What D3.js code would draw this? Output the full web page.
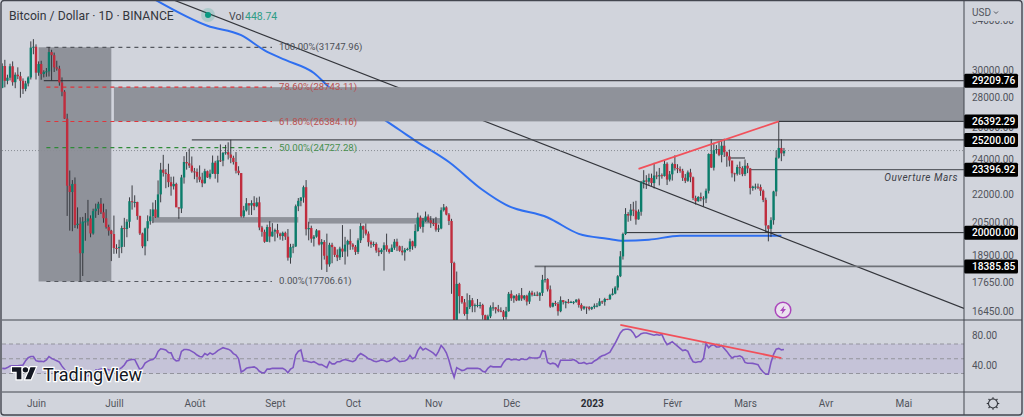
<!DOCTYPE html>
<html>
<head>
<meta charset="utf-8">
<script src="https://cdn.jsdelivr.net/npm/d3@7"></script>
<style>
  html, body { margin: 0; padding: 0; background: #d1d4dc; overflow: hidden; }
  text { font-family: Roboto, sans-serif; }
</style>
</head>
<body>
<svg id="chart" width="1024" height="417"></svg>
<script>
// daily candles, 19 May 2022 -> 16 Mar 2023
const firstOpen = 28700;
const closes = [
  30300,29200,29430,30280,29100,29650,29540,29200,28620,29010,29450,31720,31790,
  29800,30450,29700,29860,29900,31370,31130,30200,30100,29080,28420,26570,22480,22130,22580,20380,20450,19000,20560,20570,20720,19960,21100,21230,21490,21040,20730,20280,20100,19930,
  19250,19240,19300,20230,20180,20550,21630,21590,21590,20850,19960,19330,20210,20580,20830,21190,20780,22000,23400,23220,23150,22680,22450,22580,21300,21240,22950,23850,23770,23640,23300,
  23270,22990,22820,22620,23310,22950,23170,23810,23150,23950,23930,24400,24440,24300,24100,23850,23340,23200,20830,21140,21520,21400,21530,21360,21570,20260,20040,19550,20280,19810,20050,
  20130,19950,19830,19990,19800,18790,19290,19320,21360,21650,21830,22400,20170,20230,19700,19800,20110,19420,19540,18880,18480,19400,19290,18920,18800,19220,19080,19410,19590,19420,
  19310,19060,19620,20330,20150,19950,19530,19420,19440,19130,19050,19150,19380,19180,19060,19260,19550,19330,19120,19040,19160,19200,19570,19330,20080,20770,20290,20600,20820,20630,20490,
  20480,20150,20210,21150,21300,20920,20590,18540,15880,17600,17070,16810,16330,16610,16900,16660,16690,16700,16700,16280,15780,16230,16600,16600,16520,16460,16430,16210,16440,17170,
  16980,17090,16890,17110,16970,17090,16840,17220,17130,17130,17090,17210,17780,17810,17360,16630,16780,16740,16440,16900,16820,16830,16780,16830,16830,16920,16700,16550,16630,16600,16540,
  16610,16670,16670,16850,16830,16950,16940,17120,17180,17440,17940,18850,19930,20950,20870,21180,21130,20670,21070,22670,22780,22710,22920,22630,23060,23010,23080,23030,23740,22830,23130,
  23730,23490,23430,23330,22930,22760,23240,22960,21800,21630,21860,21780,21780,22200,24330,23520,24570,24630,24280,24840,24440,24190,23940,23190,23160,23550,23490,23140,
  23630,23470,22350,22430,22430,22410,22200,21700,20360,20190,20630,22160,24110,24700,24370,24520
];
const highs = [
  30500,30770,29650,30470,30650,29820,30200,29860,29380,29200,29530,32220,32400,
  31980,30650,30700,29980,30150,31770,31550,31330,30700,30320,29450,28530,26900,23350,22800,22950,21300,20780,20800,21000,21700,20880,21230,21500,21600,21800,21500,21200,20400,20140,
  20870,19430,19650,20350,20750,20680,21840,22500,21950,21600,20860,20000,20250,20880,21200,21560,21690,22780,23800,24280,23430,23750,22990,23000,22650,21300,23100,24200,24450,24670,24180,
  23500,23470,23650,23220,23450,23350,23400,24240,23920,24230,24920,24450,24890,25050,25210,24230,24450,23600,23200,21380,21800,21520,21680,21900,21820,21880,20340,20150,20400,20580,20480,
  20200,20440,20000,20050,20050,20180,19450,19450,21450,21800,21850,22490,22800,20550,20350,19880,20180,20100,19680,19630,19950,19500,19500,19310,19180,19310,20380,19790,19650,20170,
  19480,19390,19720,20480,20360,20460,20060,19610,19560,19520,19260,19230,19520,19950,19220,19420,19680,19700,19360,19350,19250,19260,19700,19600,20420,21020,20870,20750,21080,20930,20840,
  20700,20800,20400,21300,21480,21360,21000,20700,18600,18150,17650,17070,16950,17190,17120,16990,16760,16950,16820,16750,16300,16300,16680,16810,16610,16700,16600,16490,16620,17250,
  17320,17100,17150,17200,17420,17120,17130,17300,17300,17230,17270,17240,18000,18390,17850,17530,16800,16870,16820,17060,16900,16870,16950,16870,16860,16940,16970,16770,16660,16620,16650,
  16630,16760,16780,16980,16880,17000,16960,17170,17400,17500,17990,19100,20000,21260,21050,21480,21600,21650,21190,22750,23370,23080,23170,23170,23800,23290,23500,23180,23950,23830,23320,
  23810,24250,23720,23590,23450,23150,23350,23450,23000,21930,21900,22100,21900,22320,24370,25250,25020,24880,25120,25120,25280,24480,24600,23880,23220,23690,23880,23600,
  24000,23790,23500,22480,22600,22600,22550,22270,21820,20370,20780,22200,24550,26392,25250,24700
];
const lows = [
  28670,28730,28950,29230,28850,28670,29320,28000,28260,28450,28800,29300,31200,
  29300,29570,29280,29450,29500,29520,29220,29850,29950,28850,28100,26550,20850,20100,20070,20230,20200,17706,17950,19600,20350,19770,19900,20750,20900,20950,20500,20200,19850,18630,
  18970,18980,18780,19000,19300,19770,20240,21180,21300,20650,19880,19240,18900,19580,20400,20480,20750,20770,21570,23000,22340,22400,21930,22270,21680,20700,21000,22600,23400,23500,23220,
  22850,22650,22680,22400,22600,22920,22850,23150,22880,22660,23850,23600,24290,24000,23780,23700,23180,23080,20770,20760,21080,20900,20900,21150,21310,20120,19800,19500,19550,19520,19800,
  19570,19750,19650,19600,19640,18650,18510,19000,19300,21100,21360,21550,19860,19620,19500,19320,19750,19370,18230,18700,18130,18370,18530,18820,18630,18680,18820,18470,18840,19160,
  19170,18920,18960,19490,19730,19860,19320,19250,19310,19020,18860,18960,18190,19070,18980,19070,19160,19100,19070,18900,18650,19120,19070,19160,19240,20050,20200,20000,20550,20520,20240,
  20330,20050,20030,20170,21080,20880,20380,17170,15590,15750,16350,16750,16260,15800,16530,16400,16400,16600,16550,16100,15480,15620,16160,16460,16350,16400,16400,16000,16100,16420,
  16870,16790,16860,16880,16870,16900,16680,16740,17060,17090,17070,16870,17080,17660,17270,16580,16600,16660,16260,16400,16720,16560,16760,16790,16730,16790,16590,16460,16500,16330,16470,
  16490,16540,16600,16650,16740,16670,16900,16910,17100,17150,17320,17900,18700,19880,20550,20600,20840,20400,20660,20860,22330,22300,22500,22470,22330,22850,22500,22880,23000,22520,22720,
  22770,23350,23200,23220,22750,22630,22700,22680,21690,21450,21600,21630,21350,21530,22050,23500,23350,24350,24200,23830,24150,23570,23590,22950,22720,23060,23100,23020,
  23030,23200,22000,22200,22270,22290,21920,21580,20030,19570,19780,20400,21900,24050,23900,24200
];
const rsiValues = [
  37,36.6,38,40,40.6,40.6,40.6,41,41.5,47.4,51.5,53,53,
  47.4,46.5,46.5,46,48.3,53,50.5,48.8,47.4,45.6,40,35.6,30,22,21,24,21,22,20,26,27,28,26,34.7,35,36,37,36,35,34.7,
  35,35,36,38,41.5,47,48.3,49,49,42,35,38,44,46.5,48.3,49,52,60,63.5,63,62,58.5,58,50,47,47.5,60,62.5,62.5,62,60,
  58,55,53,52.5,57,55,58,56,58,61,63,65,64,63,61,57,55,50,32,34,37,38,38.5,39,37,33,31,31,36,36,37,
  37,37,37,37,35,31,36,38,55,60,62,47,47,46,45,46,44,42,42,40,38,46,43,43,46,46,48,49,48,47,
  46,48,54,57,55,53,50,49,47,46,47,48.5,47.5,46,47,49,52,49,46,46.5,47,49,54.5,50,52,61,66,62,64,62,60,
  57.5,54,60,68,64,58,48,35,25,38,36,34,34.7,37,37,37,37,37,36,33,32,37,40,39,39,39,39,45,49,50,
  48.5,49,49,48,50,49,49,52,51,51,51,52,61,60,45,43,44,43,39,48,48,48,48,48,49,47,44,44,45,43,44,
  44,47,49,52,54,55,57,59,65,71,78,85,89,90,90,89,85,79,81,84,85,85,84,83,82,83,82,83,75,69,71,
  73,70,67,64,61,62,60,52,46,45,46,46,50,71,65,68,69,66,66,68,64,60,55,51,53,53,54,52,
  45,44,44,43.7,43,42,36,32,29,29,45,56,63,64,62,62.5
];

// moving average: day number from 1 June, price
const maDays = [46,66,79,88,96,107,114,127,140,146,159,172,181,197,209,220,226,236,248,267,287];
const maPrices = [35730,33500,32720,31510,30760,29780,28540,27290,25830,25160,23850,22240,21430,20770,19940,19700,19600,19650,19840,19840,19840];

const priceTicks = [34000,30000,28000,26000,24000,22000,20500,18900,17650,16450];
const rsiTicks = [80,40];
const rsiBands = [70,50,30];
const monthStarts = [[2022,5],[2022,6],[2022,7],[2022,8],[2022,9],[2022,10],[2022,11],[2023,0],[2023,1],[2023,2],[2023,3],[2023,4]];
const monthLabels = ["Juin","Juill","Août","Sept","Oct","Nov","Déc","2023","Févr","Mars","Avr","Mai"];

const fibPrices = [31747.96,28743.11,26384.16,24727.28,17706.61];
const fibNames = ["100.00%","78.60%","61.80%","50.00%","0.00%"];
const fibColors = ["#55585f","#e0353b","#e0353b","#2f8a38","#55585f"];
const fibTextColors = ["#4d5057","#b9504f","#b9504f","#478f4e","#4d5057"];

const levelPrices = [29209.76,26392.29,25200,23396.92,20000,18385.85];
const levelStarts = [3.5,286,60.5,275,227,192.5];
const levelColors = ["#26282e","#26282e","#4b4e55","#5c5f66","#26282e","#6f7278"];
const levelWidths = [1,1,1.2,1.2,1,1.6];
const lastPrice = 24540;

const H = 417;
const paneLeft = 2, paneRight = 964, paneBottom = 320, rsiBottom = 392, frameRight = 1022, frameBottom = 415;

const day = n => new Date(Date.UTC(2022, 5, 1 + n));
const x = d3.scaleUtc().domain([day(0), day(273)]).range([36, 745]);
const y = d3.scaleLog().domain([16450, 30000]).range([311, 70]);
const rsiY = d3.scaleLinear().domain([30, 70]).range([373.5, 344]);

const svg = d3.select("#chart");
const defs = svg.append("defs");
defs.append("clipPath").attr("id", "pane").append("rect")
  .attr("x", paneLeft).attr("y", 1).attr("width", paneRight - paneLeft).attr("height", paneBottom - 1);
defs.append("clipPath").attr("id", "axisclip").append("rect")
  .attr("x", paneRight).attr("y", 21).attr("width", 58).attr("height", paneBottom - 21);

const pane = svg.append("g").attr("clip-path", "url(#pane)");

// 200 MA and the long trend line go under the zone
pane.append("path")
  .datum(maDays.map((d, i) => [d, maPrices[i]]))
  .attr("fill", "none").attr("stroke", "#2f6ff0").attr("stroke-width", 2)
  .attr("d", d3.line().x(d => x(day(d[0]))).y(d => y(d[1])).curve(d3.curveMonotoneX));

pane.append("line")
  .attr("x1", x(day(53.5))).attr("y1", y(35720))
  .attr("x2", paneRight).attr("y2", y(16560))
  .attr("stroke", "#33353b").attr("stroke-width", 1.2);

// zones
pane.append("rect")
  .attr("x", x(day(1.1))).attr("y", y(fibPrices[0]))
  .attr("width", x(day(29.5)) - x(day(1.1))).attr("height", y(fibPrices[4]) - y(fibPrices[0]))
  .attr("fill", "#8f929a");
pane.append("rect")
  .attr("x", x(day(30.2))).attr("y", y(28743.11))
  .attr("width", paneRight - x(day(30.2))).attr("height", y(26392.29) - y(28743.11))
  .attr("fill", "#8f929a");
pane.append("rect")
  .attr("x", x(day(45))).attr("y", y(20790))
  .attr("width", x(day(101)) - x(day(45))).attr("height", 5.5)
  .attr("fill", "#8f929a");
pane.append("rect")
  .attr("x", x(day(105))).attr("y", y(20740))
  .attr("width", x(day(156)) - x(day(105))).attr("height", 5.5)
  .attr("fill", "#8f929a");

// last price
pane.append("line")
  .attr("x1", paneLeft).attr("x2", paneRight)
  .attr("y1", y(lastPrice)).attr("y2", y(lastPrice))
  .attr("stroke", "#8a8d95").attr("stroke-width", 1).attr("stroke-dasharray", "1 2");

// fib levels
fibPrices.forEach((p, i) => {
  pane.append("line")
    .attr("x1", x(day(4.5))).attr("x2", 272)
    .attr("y1", y(p)).attr("y2", y(p))
    .attr("stroke", fibColors[i]).attr("stroke-width", 1.2).attr("stroke-dasharray", "4 4");
  pane.append("text")
    .attr("x", 279).attr("y", y(p) + 3)
    .attr("font-size", 9.6).attr("fill", fibTextColors[i])
    .text(fibNames[i] + "(" + p.toFixed(2) + ")");
});

// horizontal levels
levelPrices.forEach((p, i) => {
  pane.append("line")
    .attr("x1", x(day(levelStarts[i]))).attr("x2", paneRight)
    .attr("y1", y(p)).attr("y2", y(p))
    .attr("stroke", levelColors[i]).attr("stroke-width", levelWidths[i]);
});
pane.append("line")
  .attr("x1", x(day(267))).attr("x2", x(day(273)))
  .attr("y1", y(24090)).attr("y2", y(24090))
  .attr("stroke", "#26282e").attr("stroke-width", 1);

// candles
const candles = closes.map((c, i) => ({
  date: day(i - 13),
  open: i ? closes[i - 1] : firstOpen,
  close: c, high: highs[i], low: lows[i]
}));
const candle = pane.append("g").selectAll("g").data(candles).join("g");
candle.append("line")
  .attr("x1", d => x(d.date)).attr("x2", d => x(d.date))
  .attr("y1", d => y(d.high)).attr("y2", d => y(d.low))
  .attr("stroke", "#2a2c32").attr("stroke-width", 0.9);
candle.append("rect")
  .attr("x", d => x(d.date) - 1.2).attr("width", 2.4)
  .attr("y", d => y(Math.max(d.open, d.close)))
  .attr("height", d => Math.max(1, Math.abs(y(d.open) - y(d.close))))
  .attr("fill", d => d.close >= d.open ? "#0b7d6b" : "#c02d3e");

// rising wedge top
pane.append("line")
  .attr("x1", x(day(232.6))).attr("y1", y(23440))
  .attr("x2", x(day(286.5))).attr("y2", y(26392))
  .attr("stroke", "#f2505a").attr("stroke-width", 1.8);

// note
pane.append("text")
  .attr("x", 958).attr("y", y(23396.92) + 11)
  .attr("text-anchor", "end").attr("font-size", 10).attr("font-style", "italic")
  .attr("letter-spacing", 0.5).attr("fill", "#3d4047")
  .text("Ouverture Mars");

// lightning badge
const badge = pane.append("g").attr("transform", "translate(783,310)");
badge.append("circle").attr("r", 7.8).attr("fill", "#ebe2ef").attr("stroke", "#ab47bc").attr("stroke-width", 1.5);
badge.append("path").attr("d", "M1.5,-4.5 L-3,1 L-0.5,1 L-1.5,4.5 L3,-1 L0.5,-1 Z").attr("fill", "#ab47bc");

// rsi pane
const rsi = svg.append("g");
rsi.append("rect")
  .attr("x", paneLeft).attr("width", paneRight - paneLeft)
  .attr("y", rsiY(70)).attr("height", rsiY(30) - rsiY(70))
  .attr("fill", "#c5c3d8");
rsi.selectAll("line.band").data(rsiBands).join("line").attr("class", "band")
  .attr("x1", paneLeft).attr("x2", paneRight)
  .attr("y1", d => rsiY(d)).attr("y2", d => rsiY(d))
  .attr("stroke", "#93949d").attr("stroke-width", 1).attr("stroke-dasharray", "4 3");
rsi.append("path")
  .datum(rsiValues)
  .attr("fill", "none").attr("stroke", "#7e57c2").attr("stroke-width", 1.6)
  .attr("d", d3.line().x((d, i) => x(day(i - 13))).y(d => rsiY(d)));
rsi.append("line")
  .attr("x1", x(day(225.5))).attr("y1", rsiY(96))
  .attr("x2", x(day(287.5))).attr("y2", rsiY(51))
  .attr("stroke", "#f2505a").attr("stroke-width", 1.8);

// watermark
const logo = svg.append("g").attr("transform", "translate(12,364.5) scale(0.67)");
logo.append("path")
  .attr("d", "M14 22H7V11H0V4h14v18zM28 22h-8l7.5-18h8L28 22z")
  .attr("fill", "#131722").attr("stroke", "#fff").attr("stroke-width", 3.6).attr("paint-order", "stroke");
logo.append("circle").attr("cx", 20).attr("cy", 8).attr("r", 4)
  .attr("fill", "#131722").attr("stroke", "#fff").attr("stroke-width", 3.6).attr("paint-order", "stroke");
svg.append("text")
  .attr("x", 43).attr("y", 380.5)
  .attr("font-size", 18).attr("font-weight", 400).attr("fill", "#131722")
  .attr("stroke", "#fff").attr("stroke-width", 2.5).attr("paint-order", "stroke")
  .text("TradingView");

// axes
const priceAxis = svg.append("g").attr("clip-path", "url(#axisclip)").append("g")
  .attr("transform", "translate(972,0)")
  .call(d3.axisRight(y).tickValues(priceTicks).tickFormat(d3.format(".2f")).tickSize(0).tickPadding(0));
const rsiAxis = svg.append("g")
  .attr("transform", "translate(972,0)")
  .call(d3.axisRight(d3.scaleLinear().domain([40, 80]).range([365.5, 335.5])).tickValues(rsiTicks).tickFormat(d3.format(".2f")).tickSize(0).tickPadding(0));
const timeAxis = svg.append("g")
  .attr("transform", "translate(0,400)")
  .call(d3.axisBottom(x).tickValues(monthStarts.map(m => new Date(Date.UTC(m[0], m[1], 1))))
    .tickFormat((d, i) => monthLabels[i]).tickSize(0).tickPadding(0));
[priceAxis, rsiAxis, timeAxis].forEach(a => {
  a.select(".domain").remove();
  a.selectAll("text").attr("font-size", 10).attr("fill", "#50535b").attr("font-family", "Roboto, sans-serif");
});
timeAxis.selectAll("text").filter(d => d.getUTCFullYear() == 2023 && d.getUTCMonth() == 0)
  .attr("font-weight", 700).attr("fill", "#2a2c33");

// price tags
const tag = svg.append("g").selectAll("g").data(levelPrices).join("g")
  .attr("transform", d => "translate(964," + y(d) + ")");
tag.append("rect").attr("x", 0).attr("y", -7).attr("width", 54).attr("height", 14).attr("rx", 1.5).attr("fill", "#000");
tag.append("text").attr("x", 8).attr("y", 3.6)
  .attr("font-size", 10.2).attr("font-weight", 500).attr("fill", "#fff")
  .text(d => d.toFixed(2));

// frame and separators
const frameColor = "#43464f";
[[paneRight, 0, paneRight, frameBottom], [paneLeft, paneBottom, frameRight, paneBottom], [paneLeft, rsiBottom, frameRight, rsiBottom]]
  .forEach(s => {
    svg.append("line").attr("x1", s[0]).attr("y1", s[1]).attr("x2", s[2]).attr("y2", s[3])
      .attr("stroke", frameColor).attr("stroke-width", 1);
  });
svg.append("rect").attr("x", 1).attr("y", 0.5).attr("width", frameRight - 1).attr("height", frameBottom - 0.5)
  .attr("rx", 3).attr("fill", "none").attr("stroke", frameColor).attr("stroke-width", 1.4);

// header
svg.append("text").attr("x", 9).attr("y", 20)
  .attr("font-size", 12.2).attr("fill", "#33363d")
  .text("Bitcoin / Dollar · 1D · BINANCE");
svg.append("circle").attr("cx", 208).attr("cy", 15).attr("r", 7).attr("fill", "#089981").attr("opacity", 0.18);
svg.append("circle").attr("cx", 208).attr("cy", 15).attr("r", 3).attr("fill", "#089981");
svg.append("text").attr("x", 229).attr("y", 20).attr("font-size", 10.5).attr("fill", "#44474e").text("Vol");
svg.append("text").attr("x", 245).attr("y", 20).attr("font-size", 10.5).attr("fill", "#2f9d87").text("448.74");

svg.append("text").attr("x", 972).attr("y", 16).attr("font-size", 10).attr("fill", "#50535b").text("USD");
svg.append("path").attr("d", "M994,11.5 l2,2 l2,-2").attr("fill", "none").attr("stroke", "#50535b");

// settings gear
const gear = svg.append("g").attr("transform", "translate(993,403.5)").attr("fill", "none").attr("stroke", "#33363d");
gear.append("circle").attr("r", 4.5).attr("stroke-width", 1.1);
gear.selectAll("line").data(d3.range(8)).join("line")
  .attr("x1", 0).attr("x2", 0).attr("y1", -4.5).attr("y2", -6.3).attr("stroke-width", 1.2)
  .attr("transform", d => "rotate(" + d * 45 + ")");
</script>
</body>
</html>
